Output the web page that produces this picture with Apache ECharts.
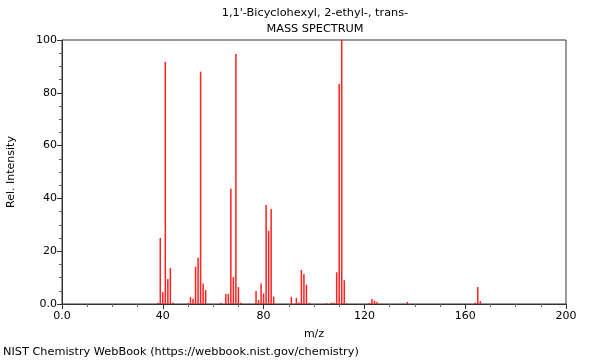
<!DOCTYPE html>
<html>
<head>
<meta charset="utf-8">
<script src="https://cdn.jsdelivr.net/npm/echarts@6/dist/echarts.min.js"></script>
<style>html,body{margin:0;padding:0;background:#fff}#c{width:600px;height:360px}</style>
</head>
<body>
<div id="c"></div>
<script>
var titleLine1 = "1,1'-Bicyclohexyl, 2-ethyl-, trans-";
var titleLine2 = "MASS SPECTRUM";
var xLabel = "m/z";
var yLabel = "Rel. Intensity";
var footer = "NIST Chemistry WebBook (https://webbook.nist.gov/chemistry)";
var mz =        [38, 39, 40, 41, 42, 43, 44, 50, 51, 52, 53, 54, 55, 56, 57, 63, 65, 66, 67, 68, 69, 70, 71, 77, 78, 79, 80, 81, 82, 83, 84, 91, 93, 94, 95, 96, 97, 98, 105, 107, 108, 109, 110, 111, 112, 113, 122, 123, 124, 125, 137, 164, 165, 166];
var intensity = [0.5, 25, 4.5, 91.8, 9.5, 13.6, 0.5, 0.4, 2.6, 2.0, 14.1, 17.5, 88, 7.8, 5.3, 0.5, 3.8, 3.8, 43.7, 10.2, 94.7, 6.4, 0.5, 4.9, 1.5, 7.8, 4.0, 37.5, 27.7, 36, 2.8, 2.7, 2.3, 0.6, 12.9, 11.4, 7.3, 0.4, 0.3, 0.5, 0.5, 12, 83.3, 100, 9, 0.3, 0.4, 1.9, 1.2, 0.8, 0.8, 0.5, 6.4, 1.1];
var xTicks = {min: 0, max: 200, interval: 40};
var yTicks = {min: 0, max: 100, interval: 20};

var data = mz.map(function (m, i) { return [m, intensity[i]]; });
var font = 'DejaVu Sans';
var fmt = function (v) { return v === 0 ? '0.0' : String(v); };
var chart = echarts.init(document.getElementById('c'), null, {renderer: 'canvas'});
chart.setOption({
  animation: false,
  backgroundColor: '#fff',
  title: [
    {text: titleLine1, left: 315, top: 8, padding: 0, textAlign: 'center', textStyle: {fontFamily: font, fontSize: 11.3, fontWeight: 'normal', color: '#000'}},
    {text: titleLine2, left: 315, top: 24, padding: 0, textAlign: 'center', textStyle: {fontFamily: font, fontSize: 11.3, fontWeight: 'normal', color: '#000'}},
    {text: footer, left: 3, top: 347, padding: 0, textStyle: {fontFamily: font, fontSize: 11.3, fontWeight: 'normal', color: '#000'}}
  ],
  grid: {left: 62, right: 34, top: 40, bottom: 56, outerBoundsMode: 'none', containLabel: false,
    show: true, borderColor: '#333', borderWidth: 1, backgroundColor: 'transparent'},
  xAxis: {
    type: 'value', min: xTicks.min, max: xTicks.max, interval: xTicks.interval,
    name: xLabel, nameLocation: 'middle', nameGap: 25,
    nameTextStyle: {fontFamily: font, fontSize: 11, color: '#000'},
    axisLine: {onZero: false, lineStyle: {color: '#333'}},
    axisTick: {length: 5, lineStyle: {color: '#333'}},
    minorTick: {show: true, splitNumber: 4, length: 3, lineStyle: {color: '#666'}},
    splitLine: {show: false},
    axisLabel: {fontFamily: font, fontSize: 11, color: '#000', margin: 7, formatter: fmt}
  },
  yAxis: {
    type: 'value', min: yTicks.min, max: yTicks.max, interval: yTicks.interval,
    name: yLabel, nameLocation: 'middle', nameGap: 45, nameRotate: 90,
    nameTextStyle: {fontFamily: font, fontSize: 11, color: '#000'},
    axisLine: {show: true, lineStyle: {color: '#333'}},
    axisTick: {show: true, length: 5, lineStyle: {color: '#333'}},
    minorTick: {show: true, splitNumber: 4, length: 3, lineStyle: {color: '#666'}},
    splitLine: {show: false},
    axisLabel: {fontFamily: font, fontSize: 11, color: '#000', margin: 5, formatter: fmt}
  },
  series: [{
    type: 'bar', data: data, barWidth: 1.5, barGap: '-100%',
    itemStyle: {color: '#ff2020'}
  }]
});
</script>
</body>
</html>
